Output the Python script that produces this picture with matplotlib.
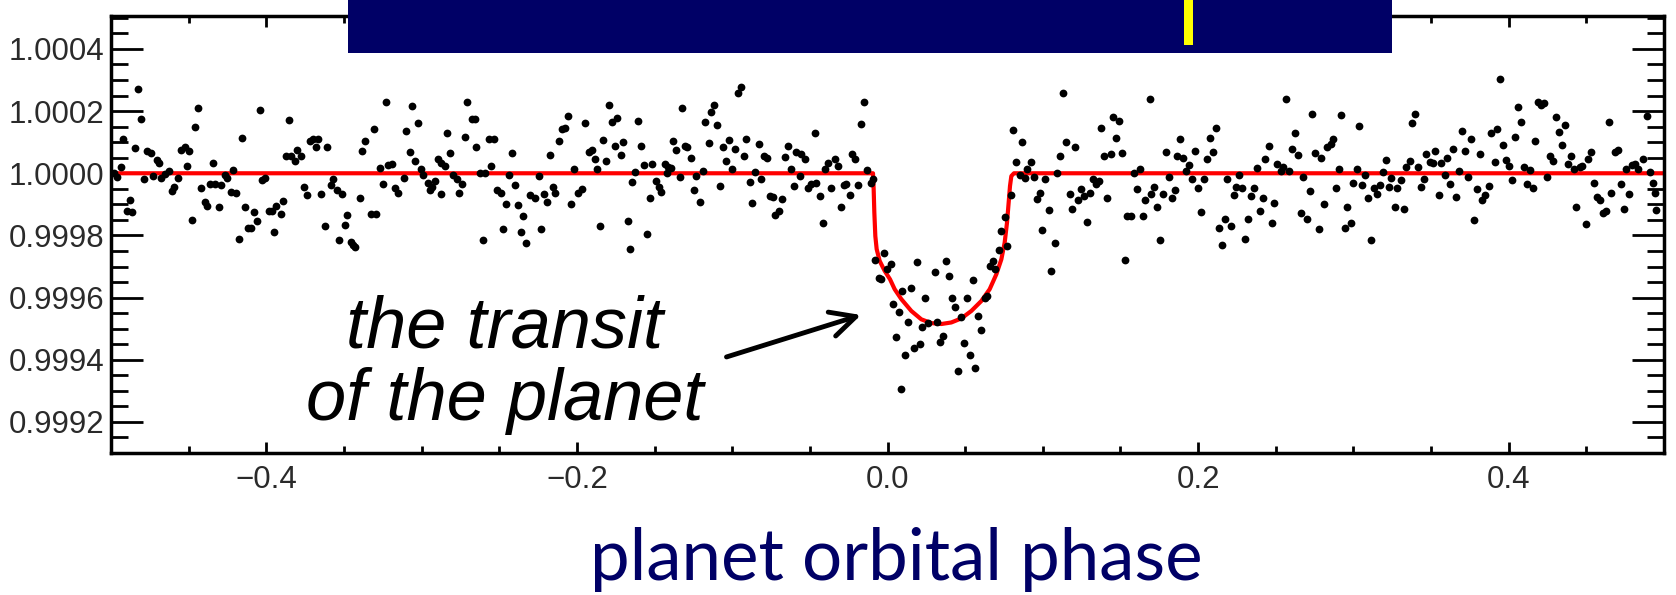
import matplotlib
matplotlib.use("Agg")
import matplotlib.pyplot as plt
from matplotlib.ticker import MultipleLocator, FormatStrFormatter, FuncFormatter
from matplotlib.patches import Rectangle

# ---- phase-folded photometry (phase, relative flux), split along the orbit ----
seg_a = [
    (-0.48261, 1.000270), (-0.48047, 1.000176), (-0.44398, 1.000211), (-0.44569, 1.000150),
    (-0.40427, 1.000203), (-0.38538, 1.000170), (-0.41564, 1.000115), (-0.49227, 1.000111),
    (-0.48433, 1.000081), (-0.47660, 1.000072), (-0.47446, 1.000064), (-0.45471, 1.000074),
    (-0.45213, 1.000083), (-0.44977, 1.000073), (-0.47016, 1.000043), (-0.46909, 1.000034),
    (-0.45127, 1.000024), (-0.49377, 1.000020), (-0.49807, 1.000002), (-0.49592, 0.999989),
    (-0.47875, 0.999983), (-0.47295, 0.999991), (-0.46759, 0.999986), (-0.46501, 0.999997),
    (-0.46287, 1.000008), (-0.45686, 0.999986), (-0.45943, 0.999957), (-0.46072, 0.999943),
    (-0.44183, 0.999954), (-0.43432, 1.000034), (-0.43646, 0.999965), (-0.43325, 0.999965),
    (-0.42938, 0.999961), (-0.42681, 0.999994), (-0.42509, 0.999984), (-0.42144, 1.000010),
    (-0.42294, 0.999940), (-0.41929, 0.999936), (-0.43968, 0.999908), (-0.43797, 0.999895),
    (-0.43067, 0.999890), (-0.48798, 0.999913), (-0.48948, 0.999879), (-0.48648, 0.999876),
    (-0.44763, 0.999850), (-0.41393, 0.999890), (-0.40792, 0.999876), (-0.40599, 0.999845),
    (-0.41178, 0.999825), (-0.40963, 0.999824), (-0.41758, 0.999788), (-0.39504, 0.999812),
    (-0.40277, 0.999977), (-0.40105, 0.999986), (-0.39847, 0.999879), (-0.39633, 0.999879),
    (-0.39354, 0.999895), (-0.39075, 0.999870), (-0.38924, 0.999911), (-0.38753, 1.000054),
    (-0.38431, 1.000054), (-0.38173, 1.000040), (-0.38001, 1.000074), (-0.37787, 1.000054),
    (-0.37207, 1.000104), (-0.36993, 1.000109), (-0.36671, 1.000109), (-0.36778, 1.000083),
    (-0.36091, 1.000083), (-0.37572, 0.999957), (-0.37379, 0.999929), (-0.36456, 0.999934),
    (-0.35855, 0.999961), (-0.35683, 0.999983), (-0.35426, 0.999946), (-0.35104, 0.999932),
    (-0.36241, 0.999831), (-0.34782, 0.999865), (-0.34911, 0.999834), (-0.35340, 0.999785),
    (-0.34567, 0.999779), (-0.34310, 0.999763), (-0.34417, 0.999770), (-0.33988, 0.999922),
    (-0.33837, 1.000072), (-0.33623, 1.000104),
]

seg_b = [
    (-0.32313, 1.000230), (-0.30596, 1.000217), (-0.30231, 1.000163), (-0.33065, 1.000142),
    (-0.30983, 1.000136), (-0.28343, 1.000128), (-0.27055, 1.000229), (-0.26754, 1.000174),
    (-0.26583, 1.000176), (-0.27226, 1.000117), (-0.26475, 1.000086), (-0.25681, 1.000109),
    (-0.25338, 1.000111), (-0.24179, 1.000066), (-0.28192, 1.000066), (-0.30768, 1.000069),
    (-0.30403, 1.000038), (-0.32163, 1.000027), (-0.31906, 1.000029), (-0.32700, 1.000016),
    (-0.30060, 1.000013), (-0.29909, 0.999994), (-0.28944, 1.000045), (-0.28729, 1.000034),
    (-0.28471, 1.000024), (-0.27978, 0.999994), (-0.27699, 0.999981), (-0.27398, 0.999967),
    (-0.31133, 0.999984), (-0.32485, 0.999965), (-0.31734, 0.999954), (-0.31519, 0.999938),
    (-0.29587, 0.999970), (-0.29330, 0.999957), (-0.29115, 0.999975), (-0.29480, 0.999946),
    (-0.28729, 0.999932), (-0.27613, 0.999936), (-0.26261, 1.000002), (-0.25939, 1.000002),
    (-0.25509, 1.000024), (-0.25123, 0.999946), (-0.24908, 0.999936), (-0.24393, 0.999994),
    (-0.24007, 0.999961), (-0.24543, 0.999900), (-0.23792, 0.999897), (-0.23470, 0.999863),
    (-0.24758, 0.999820), (-0.23620, 0.999812), (-0.23256, 0.999777), (-0.26067, 0.999786),
    (-0.23041, 0.999929), (-0.22719, 0.999922), (-0.22461, 0.999991), (-0.22290, 0.999820),
    (-0.22118, 0.999932), (-0.21903, 0.999908), (-0.21538, 0.999957), (-0.21388, 0.999936),
    (-0.21710, 1.000058), (-0.21174, 1.000104), (-0.20959, 1.000144), (-0.20744, 1.000147),
    (-0.20573, 1.000184), (-0.19456, 1.000161), (-0.20208, 1.000013), (-0.19929, 0.999938),
    (-0.19671, 0.999949), (-0.20401, 0.999900), (-0.19242, 1.000069), (-0.19027, 1.000075),
    (-0.18855, 1.000047), (-0.18684, 1.000013), (-0.18319, 1.000107), (-0.18104, 1.000040),
    (-0.17954, 1.000220), (-0.17739, 1.000166), (-0.17396, 1.000179), (-0.17568, 1.000088),
    (-0.17181, 1.000058), (-0.17010, 1.000101), (-0.18534, 0.999831), (-0.33236, 0.999868),
    (-0.32914, 0.999868),
]

seg_c = [
    (-0.16710, 0.999847), (-0.16603, 0.999756), (-0.16452, 0.999972), (-0.16281, 1.000004),
    (-0.16066, 1.000168), (-0.15894, 1.000088), (-0.15680, 1.000026), (-0.15165, 1.000029),
    (-0.15465, 0.999804), (-0.15315, 0.999922), (-0.14886, 0.999975), (-0.14735, 0.999957),
    (-0.14564, 0.999940), (-0.14349, 1.000031), (-0.14134, 1.000020), (-0.14177, 1.000000),
    (-0.13963, 1.000018), (-0.13812, 1.000104), (-0.13598, 1.000075), (-0.13061, 1.000088),
    (-0.12889, 1.000086), (-0.12675, 1.000050), (-0.13233, 1.000211), (-0.13383, 0.999989),
    (-0.12460, 0.999946), (-0.12310, 0.999991), (-0.12095, 0.999906), (-0.11881, 1.000008),
    (-0.11730, 1.000166), (-0.11387, 1.000197), (-0.11172, 1.000219), (-0.10958, 1.000155),
    (-0.11516, 1.000096), (-0.10764, 0.999959), (-0.10593, 1.000086), (-0.10421, 1.000040),
    (-0.10228, 1.000107), (-0.10013, 1.000015), (-0.09799, 1.000077), (-0.09627, 1.000257),
    (-0.09455, 1.000276), (-0.09241, 1.000056), (-0.09090, 1.000111), (-0.08876, 0.999972),
    (-0.08704, 0.999904), (-0.08511, 1.000004), (-0.08296, 1.000093), (-0.08124, 0.999983),
    (-0.07953, 1.000054), (-0.07738, 1.000048), (-0.07588, 0.999927), (-0.07373, 0.999925),
    (-0.07223, 0.999866), (-0.07008, 0.999877), (-0.06794, 0.999916), (-0.06622, 1.000053),
    (-0.06407, 1.000088), (-0.06236, 1.000015), (-0.06021, 0.999959), (-0.05871, 1.000069),
    (-0.05656, 0.999991), (-0.05549, 1.000061), (-0.05291, 1.000047), (-0.05119, 0.999954),
    (-0.04905, 0.999965), (-0.04690, 1.000128), (-0.04583, 0.999970), (-0.04368, 0.999927),
    (-0.04154, 0.999841), (-0.04003, 1.000013), (-0.03832, 1.000032), (-0.03617, 0.999954),
    (-0.03402, 1.000047), (-0.03188, 1.000024), (-0.03016, 0.999890), (-0.02801, 0.999961),
    (-0.02651, 0.999965), (-0.02436, 0.999929), (-0.02286, 1.000061), (-0.02114, 1.000045),
    (-0.01900, 0.999961), (-0.01685, 1.000158), (-0.01514, 1.000230), (-0.01299, 1.000011),
    (-0.01084, 0.999970), (-0.00934, 0.999983), (-0.00784, 0.999720), (-0.00569, 0.999664),
    (-0.00397, 0.999659), (-0.00226, 0.999743), (-0.00011, 0.999691),
]

seg_d = [
    (0.00204, 0.999707), (0.00354, 0.999579), (0.00719, 0.999554), (0.00933, 0.999622),
    (0.01492, 0.999632), (0.00569, 0.999472), (0.01105, 0.999415), (0.01320, 0.999520),
    (0.01706, 0.999439), (0.02071, 0.999450), (0.01921, 0.999715), (0.02221, 0.999504),
    (0.02436, 0.999600), (0.02608, 0.999518), (0.03037, 0.999683), (0.03209, 0.999522),
    (0.03359, 0.999458), (0.03574, 0.999475), (0.03788, 0.999718), (0.03938, 0.999668),
    (0.04153, 0.999600), (0.04325, 0.999571), (0.04539, 0.999364), (0.04711, 0.999536),
    (0.04926, 0.999453), (0.05098, 0.999599), (0.05291, 0.999415), (0.05484, 0.999657),
    (0.05656, 0.999372), (0.05827, 0.999541), (0.06042, 0.999496), (0.06257, 0.999600),
    (0.06428, 0.999606), (0.06579, 0.999702), (0.06793, 0.999718), (0.06943, 0.999691),
    (0.07158, 0.999753), (0.07330, 0.999815), (0.07544, 0.999860), (0.07716, 0.999766),
    (0.07931, 0.999929), (0.08102, 1.000138), (0.08296, 1.000036), (0.08510, 0.999994),
    (0.08682, 1.000101), (0.08832, 0.999986), (0.09004, 1.000015), (0.09262, 1.000036),
    (0.09433, 0.999988), (0.09648, 0.999916), (0.09798, 0.999935), (0.09970, 0.999818),
    (0.10163, 0.999981), (0.10378, 0.999882), (0.10549, 0.999684), (0.10764, 0.999777),
    (0.10936, 1.000000), (0.11129, 1.000056), (0.11301, 1.000259), (0.11515, 1.000099),
    (0.11730, 0.999932), (0.11880, 0.999886), (0.12095, 1.000086), (0.12266, 0.999914),
    (0.12438, 0.999949), (0.12653, 0.999927), (0.12824, 0.999843), (0.13018, 0.999936),
    (0.13232, 0.999983), (0.13447, 0.999965), (0.13597, 0.999975), (0.13769, 1.000147),
    (0.13941, 1.000054), (0.14155, 0.999922), (0.14370, 1.000061), (0.14520, 1.000182),
    (0.14735, 1.000115), (0.14907, 1.000168), (0.15100, 1.000066), (0.15271, 0.999721),
    (0.15443, 0.999863), (0.15658, 0.999861), (0.15872, 1.000000), (0.16044, 0.999949),
    (0.16237, 1.000015), (0.16452, 0.999861), (0.16602, 0.999914), (0.00869, 0.999305),
]

seg_e = [
    (0.16881, 1.000238), (0.16989, 0.999932), (0.17160, 0.999957), (0.17375, 0.999892),
    (0.17547, 0.999786), (0.17740, 0.999932), (0.17955, 1.000070), (0.18126, 0.999988),
    (0.18319, 0.999919), (0.18491, 0.999946), (0.18663, 1.000054), (0.18856, 1.000111),
    (0.19028, 1.000050), (0.19242, 1.000008), (0.19414, 1.000026), (0.19607, 0.999983),
    (0.19822, 1.000071), (0.19994, 0.999954), (0.20165, 0.999876), (0.20380, 0.999981),
    (0.20595, 1.000047), (0.20745, 1.000115), (0.20959, 1.000069), (0.21131, 1.000145),
    (0.21324, 0.999825), (0.21539, 0.999770), (0.21711, 0.999854), (0.21882, 0.999983),
    (0.22097, 0.999831), (0.22290, 0.999929), (0.22462, 0.999957), (0.22634, 0.999994),
    (0.22827, 0.999954), (0.23020, 0.999790), (0.23213, 0.999852), (0.23385, 0.999927),
    (0.23600, 0.999951), (0.23793, 1.000016), (0.23964, 0.999879), (0.24179, 0.999919),
    (0.24329, 1.000045), (0.24544, 1.000088), (0.24759, 0.999841), (0.24887, 0.999904),
    (0.25102, 1.000029), (0.25317, 1.000008), (0.25467, 1.000021), (0.25682, 1.000238),
    (0.25853, 1.000008), (0.26046, 1.000077), (0.26218, 1.000131), (0.26433, 1.000058),
    (0.26605, 0.999871), (0.26776, 0.999988), (0.26991, 0.999852), (0.27184, 0.999943),
    (0.27356, 1.000190), (0.27549, 1.000066), (0.27764, 0.999822), (0.27935, 1.000050),
    (0.28107, 0.999902), (0.28322, 1.000086), (0.28536, 1.000093), (0.28687, 1.000109),
    (0.28901, 0.999951), (0.29073, 1.000013), (0.29223, 1.000187), (0.29438, 0.999825),
    (0.29609, 0.999892), (0.29824, 0.999841), (0.29996, 0.999970), (0.30210, 1.000013),
    (0.30361, 1.000152), (0.30575, 0.999961), (0.30768, 0.999995), (0.30940, 0.999922),
    (0.31155, 0.999786), (0.31327, 0.999954), (0.31541, 0.999932), (0.31713, 0.999961),
    (0.31906, 1.000005), (0.32078, 1.000043), (0.32271, 0.999956), (0.32443, 0.999986),
    (0.32657, 0.999893), (0.32829, 0.999951), (0.33044, 0.999979), (0.33237, 0.999886),
    (0.33408, 1.000021),
]

seg_f = [
    (0.33623, 1.000040), (0.33774, 1.000161), (0.33945, 1.000190), (0.34160, 1.000021),
    (0.34332, 0.999957), (0.34546, 0.999983), (0.34697, 1.000061), (0.34911, 1.000036),
    (0.35126, 1.000032), (0.35276, 1.000072), (0.35512, 0.999929), (0.35662, 1.000034),
    (0.35877, 0.999994), (0.36049, 1.000050), (0.36220, 0.999967), (0.36435, 1.000077),
    (0.36628, 0.999924), (0.36800, 1.000008), (0.36993, 1.000136), (0.37165, 1.000072),
    (0.37380, 0.999989), (0.37551, 1.000109), (0.37744, 0.999850), (0.37938, 0.999949),
    (0.38131, 1.000063), (0.38281, 0.999913), (0.38496, 0.999929), (0.38710, 0.999959),
    (0.38882, 1.000129), (0.39097, 1.000036), (0.39268, 1.000142), (0.39462, 1.000302),
    (0.39655, 1.000090), (0.39848, 1.000043), (0.40020, 1.000024), (0.40213, 0.999979),
    (0.40384, 1.000117), (0.40599, 1.000214), (0.40771, 1.000165), (0.40985, 1.000020),
    (0.41157, 0.999965), (0.41372, 1.000011), (0.41565, 0.999954), (0.41715, 1.000104),
    (0.41887, 1.000229), (0.42059, 1.000219), (0.42273, 1.000225), (0.42488, 0.999989),
    (0.42681, 1.000054), (0.42853, 1.000040), (0.43067, 1.000181), (0.43239, 1.000133),
    (0.43432, 1.000091), (0.43604, 1.000154), (0.43819, 1.000029), (0.43990, 1.000054),
    (0.44184, 1.000015), (0.44355, 0.999893), (0.44570, 1.000021), (0.44742, 1.000024),
    (0.44956, 0.999838), (0.45107, 1.000047), (0.45321, 1.000069), (0.45493, 0.999970),
    (0.45708, 0.999924), (0.45901, 0.999913), (0.46072, 0.999871), (0.46287, 0.999879),
    (0.46437, 1.000166), (0.46609, 0.999936), (0.46824, 1.000070), (0.47038, 1.000075),
    (0.47210, 0.999967), (0.47403, 0.999886), (0.47575, 1.000015), (0.47747, 0.999932),
    (0.47940, 1.000026), (0.48112, 1.000029), (0.48326, 1.000013), (0.48648, 1.000047),
    (0.48906, 1.000184), (0.49120, 1.000005), (0.49292, 0.999970), (0.49442, 0.999936),
    (0.49506, 0.999882),
]

# ---- fitted transit model ----
model_phase = [-0.5, -0.00934, -0.00891, -0.00848, -0.00784, -0.00698, -0.00505, -0.00183,
               0.00161, 0.00461, 0.00891, 0.01534, 0.02178, 0.02822, 0.03466, 0.04110,
               0.04754, 0.05398, 0.06042, 0.06579, 0.07008, 0.07330, 0.07545, 0.07695,
               0.07802, 0.07888, 0.07974, 0.08145, 0.5]
model_flux = [1.0, 1.0, 0.999949, 0.999874, 0.999798, 0.999756, 0.999718, 0.999686,
              0.999659, 0.999627, 0.999595, 0.999557, 0.999530, 0.999518, 0.999515, 0.999520,
              0.999533, 0.999557, 0.999589, 0.999627, 0.999675, 0.999723, 0.999777, 0.999841,
              0.999906, 0.999959, 0.999991, 1.0, 1.0]

plt.rcParams['font.family'] = ['Liberation Sans', 'DejaVu Sans']

NAVY = '#000066'
TICK_TEXT = '#2a2a2a'

fig = plt.figure(figsize=(16.76, 5.95), dpi=100)
fig.patch.set_facecolor('white')
ax = fig.add_axes([0.06623, 0.23866, 0.92661, 0.73445])

ax.plot(model_phase, model_flux, color='#ff0000', lw=3.0, zorder=2,
        solid_joinstyle='round', solid_capstyle='butt')
for seg in (seg_a, seg_b, seg_c, seg_d, seg_e, seg_f):
    ph, fl = zip(*seg)
    ax.plot(ph, fl, 'o', color='black', ms=5.6, mew=0, zorder=3)

ax.set_xlim(-0.5, 0.5)
ax.set_ylim(0.99910, 1.000506)

ax.xaxis.set_major_locator(MultipleLocator(0.2))
ax.xaxis.set_minor_locator(MultipleLocator(0.05))
ax.yaxis.set_major_locator(MultipleLocator(0.0002))
ax.yaxis.set_minor_locator(MultipleLocator(0.00005))
ax.yaxis.set_major_formatter(FormatStrFormatter('%.4f'))


def phase_fmt(v, pos):
    if abs(v) < 1e-9:
        v = 0.0
    return f"{v:.1f}".replace('-', '\u2212')


ax.xaxis.set_major_formatter(FuncFormatter(phase_fmt))

ax.tick_params(axis='both', which='both', direction='in', top=True, right=True,
               color='black', labelcolor=TICK_TEXT)
ax.tick_params(axis='y', which='major', length=23, width=2.0, pad=5, labelsize=22.5)
ax.tick_params(axis='y', which='minor', length=12, width=2.0)
ax.tick_params(axis='x', which='major', length=8, width=2.0, pad=9, labelsize=22.5)
ax.tick_params(axis='x', which='minor', length=5, width=2.0)
for sp in ax.spines.values():
    sp.set_linewidth(2.5)

# annotation of the dip
ax.text(0.2537, 0.2403, 'the transit', transform=ax.transAxes, ha='center',
        va='baseline', fontsize=52, style='italic', color='black')
ax.text(0.2537, 0.0755, 'of the planet', transform=ax.transAxes, ha='center',
        va='baseline', fontsize=52, style='italic', color='black')
ax.annotate('', xy=(-0.01706, 0.999544), xytext=(-0.10367, 0.999409),
            arrowprops=dict(arrowstyle='->,head_length=0.4,head_width=0.2', lw=3.5,
                            color='black', mutation_scale=45, shrinkA=0, shrinkB=0))

# title banner across the top
fig.add_artist(Rectangle((0.2076, 0.9109), 0.6229, 0.0891, transform=fig.transFigure,
                         facecolor=NAVY, edgecolor='none', zorder=10))
fig.add_artist(Rectangle((0.7064, 0.9244), 0.0054, 0.0756, transform=fig.transFigure,
                         facecolor='#ffff00', edgecolor='none', zorder=11))

fig.text(0.535, 0.026, 'planet orbital phase', ha='center', va='baseline',
         fontsize=51, color=NAVY, family=['Lato', 'DejaVu Sans'])

fig.savefig('out.png', dpi=100)
